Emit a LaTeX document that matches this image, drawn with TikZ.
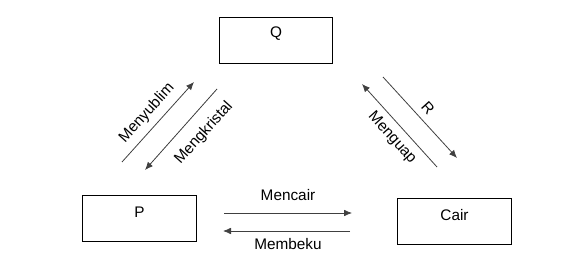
\documentclass[tikz,border=0pt]{standalone}
\usepackage{fontspec}
\setmainfont{Liberation Sans}
\usepackage{xcolor}
\definecolor{linegray}{rgb}{0.25,0.25,0.25}
\usetikzlibrary{positioning, arrows.meta}

\begin{document}
\begin{tikzpicture}[
  x=0.75pt, y=-0.75pt,
  phase/.style={draw, thick, minimum width=85pt, minimum height=35pt, font=\fontsize{11}{13}\selectfont},
  arrow/.style={-{Latex[length=6pt,width=5pt]}, draw=linegray, line width=0.6pt},
  lbl/.style={font=\fontsize{11.5}{13}\selectfont, inner sep=1pt},
]
\useasboundingbox (0,0) rectangle (574,267);

% --- Phases ---
\node[phase] (q) at (276,40.5) {};
\node[phase] (p) at (139.5,218.5) {};
\node[phase] (cair) at (454.5,221.5) {};
\node[lbl] (qtxt) at (276,34) {Q};
\node[lbl] (ptxt) at (139.5,212) {P};
\node[lbl] (cairtxt) at (454.5,215) {Cair};

% --- Arrow end points ---
\coordinate (ny1) at (122,162);
\coordinate (ny2) at (194,82);
\coordinate (kr1) at (217,89);
\coordinate (kr2) at (145,170);
\coordinate (gu1) at (437,167);
\coordinate (gu2) at (362,84);
\coordinate (r1) at (383,77);
\coordinate (r2) at (457,158);
\coordinate (ca1) at (224,213);
\coordinate (ca2) at (352,213);
\coordinate (be1) at (350,231);
\coordinate (be2) at (223,231);

% Arrows
\draw[arrow] (ny1) -- (ny2);
\draw[arrow] (kr1) -- (kr2);
\draw[arrow] (gu1) -- (gu2);
\draw[arrow] (r1) -- (r2);
\draw[arrow] (ca1) -- (ca2);
\draw[arrow] (be1) -- (be2);

% Labels
\node[lbl, rotate=48] (menyublim) at (147,113) {Menyublim};
\node[lbl, rotate=48] (mengkristal) at (204,133) {Mengkristal};
\node[lbl, rotate=-48] (menguap) at (392,138) {Menguap};
\node[lbl, rotate=-48] (rtxt) at (428,108) {R};
\node[lbl] (mencair) at (288,195) {Mencair};
\node[lbl] (membeku) at (288,244) {Membeku};
\end{tikzpicture}
\end{document}
